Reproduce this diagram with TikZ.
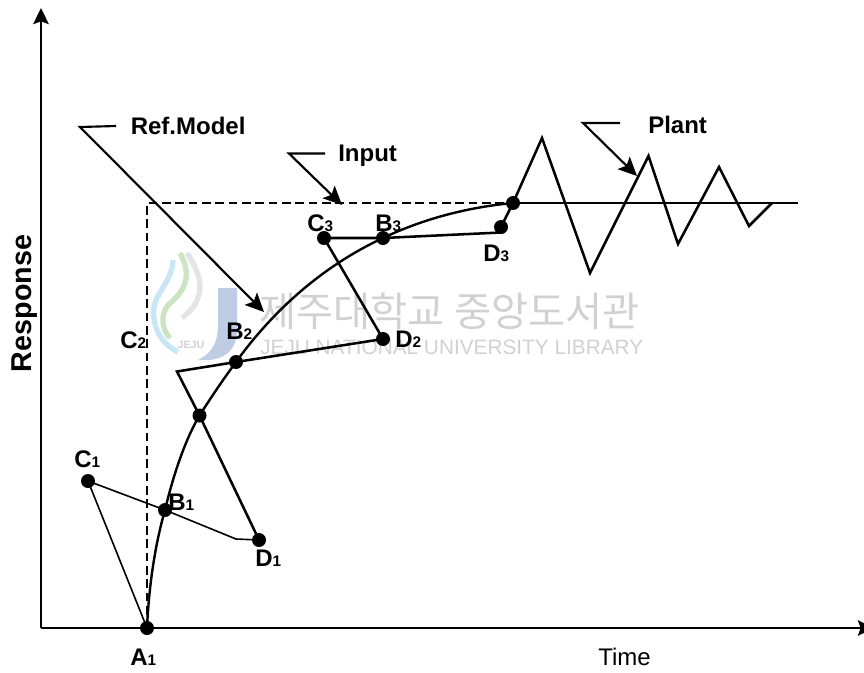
\documentclass[tikz,border=0pt]{standalone}
\usepackage{fontspec}
\setmainfont{Liberation Sans}
\newfontfamily\krfont{Noto Sans CJK KR}
\usetikzlibrary{arrows.meta}
\definecolor{wm}{gray}{0.82}
\definecolor{wmblue}{RGB}{190,205,228}
\definecolor{wmcyan}{RGB}{200,230,245}
\definecolor{wmgreen}{RGB}{205,228,195}
\definecolor{wmgray}{RGB}{225,228,232}
\tikzset{
  dot/.style={circle,fill=black,inner sep=0pt,minimum size=10.5pt},
  lab/.style={inner sep=0pt,font=\bfseries\fontsize{18}{20}\selectfont},
  axisline/.style={line width=2.1pt},
  thinline/.style={line width=1.2pt},
  midline/.style={line width=1.9pt},
  curveline/.style={line width=1.8pt},
  dashline/.style={line width=1.7pt,dash pattern=on 6.5pt off 3.5pt},
  callout/.style={line width=1.6pt,-{Stealth[length=14pt,width=13pt,inset=3pt]}},
  axisarrow/.style={axisline,-{Stealth[length=12pt,width=11.5pt,inset=2pt]}},
}
\newcommand{\sbs}[1]{{\fontsize{11.5}{12}\selectfont #1}}
\begin{document}
\begin{tikzpicture}[x=0.75pt,y=-0.75pt]
\clip (0,0) rectangle (864,672);
% watermark
\begin{scope}
\fill[wmblue] (218,288) -- (237,288) -- (237,330) .. controls (237,352) and (222,362) .. (198,360) .. controls (214,352) and (218,340) .. (218,325) -- cycle;
\draw[line width=4pt,color=wmgray] (187,253) .. controls (205,280) and (205,300) .. (182,318);
\draw[line width=4pt,color=wmcyan] (173,260) .. controls (172,285) and (150,295) .. (154,318) .. controls (156,335) and (165,345) .. (178,352);
\draw[line width=4pt,color=wmgreen] (180,253) .. controls (195,280) and (180,295) .. (168,305) .. controls (160,315) and (162,330) .. (170,338);
\node[inner sep=0pt,text=wm,font=\bfseries\fontsize{8}{8}\selectfont,align=center] (logotext) at (191,345) {JEJU};
\node[inner sep=0pt,text=wm,font=\krfont\fontsize{30.3}{31}\selectfont,anchor=west] (wmkr) at (259,311) {제주대학교 중앙도서관};
\node[inner sep=0pt,text=wm,font=\fontsize{15.6}{16}\selectfont,anchor=west] (wmen) at (260,347.5) {JEJU NATIONAL UNIVERSITY  LIBRARY};
\end{scope}
% coordinates
\coordinate (origin) at (41,628);
\coordinate (ytop) at (41,8);
\coordinate (xend) at (874,628);
\coordinate (corner) at (147,203);
\coordinate (lineend) at (798,203);
\node[dot] (A1) at (147,628) {};
\node[dot] (B1) at (165,510) {};
\node[dot] (C1) at (88,481) {};
\node[dot] (D1) at (259,540) {};
\node[dot] (M) at (199.5,415.5) {};
\node[dot] (B2) at (236,362) {};
\node[dot] (D2) at (383,339) {};
\node[dot] (C3) at (324,238) {};
\node[dot] (B3) at (383,238) {};
\node[dot] (D3) at (501,227) {};
\node[dot] (E) at (513,203) {};
\coordinate (K1) at (236,539);
\coordinate (K2) at (177,371.5);
\coordinate (K3) at (501,232.5);
\coordinate (P1) at (542,138);
\coordinate (P2) at (590,273);
\coordinate (P3) at (648.5,156);
\coordinate (P4) at (678,244);
\coordinate (P5) at (719,167);
\coordinate (P6) at (749,226);
\coordinate (P7) at (772,203);
% axes
\draw[axisarrow] (origin) -- (ytop);
\draw[axisarrow] (origin) -- (xend);
% input
\draw[dashline] (A1.center) -- (corner) -- (E.center);
\draw[axisline] (E.center) -- (lineend);
% curve
\draw[curveline] (A1.center) .. controls (149,585) and (155,545) .. (B1.center)
  .. controls (173,476) and (185,440) .. (M.center)
  .. controls (210,399) and (222,381) .. (B2.center)
  .. controls (275,308) and (325,265) .. (B3.center)
  .. controls (425,218) and (470,207) .. (E.center);
% tangents
\draw[thinline] (A1.center) -- (C1.center) -- (B1.center) -- (K1) -- (D1.center);
\draw[midline] (D1.center) -- (M.center) -- (K2) -- (B2.center) -- (D2.center) -- (C3.center);
\draw[midline] (C3.center) -- (B3.center) -- (K3) -- (D3.center) -- (E.center);
% plant
\draw[midline] (E.center) -- (P1) -- (P2) -- (P3) -- (P4) -- (P5) -- (P6) -- (P7);
% callouts
\coordinate (rm0) at (116,126); \coordinate (rm1) at (80,127); \coordinate (rm2) at (264,312);
\coordinate (in0) at (325,153.5); \coordinate (in1) at (289,153.5); \coordinate (in2) at (342,205);
\coordinate (pl0) at (620,123); \coordinate (pl1) at (583,123); \coordinate (pl2) at (637,176);
\draw[callout] (rm0) -- (rm1) -- (rm2);
\draw[callout] (in0) -- (in1) -- (in2);
\draw[callout] (pl0) -- (pl1) -- (pl2);
% labels
\node[lab,anchor=west] (tRef) at (130.5,126) {Ref.Model};
\node[lab,anchor=west] (tIn) at (338,156) {Input};
\node[lab,anchor=west] (tPl) at (648,125) {Plant};
\node[lab,anchor=base west] (tC1) at (74,467) {C\sbs{1}};
\node[lab,anchor=base west] (tB1) at (168,510) {B\sbs{1}};
\node[lab,anchor=base west] (tD1) at (255,566) {D\sbs{1}};
\node[lab,anchor=base west] (tA1) at (130,665) {A\sbs{1}};
\node[lab,anchor=base west] (tC2) at (120,348) {C\sbs{2}};
\node[lab,anchor=base west] (tB2) at (226,339) {B\sbs{2}};
\node[lab,anchor=base west] (tD2) at (395,347) {D\sbs{2}};
\node[lab,anchor=base west] (tC3) at (307,231) {C\sbs{3}};
\node[lab,anchor=base west] (tB3) at (375,231) {B\sbs{3}};
\node[lab,anchor=base west] (tD3) at (483,261) {D\sbs{3}};
\node[inner sep=0pt,font=\fontsize{18}{20}\selectfont,anchor=base west] (tTime) at (598,665) {Time};
\node[lab,font=\bfseries\fontsize{21.5}{23}\selectfont,rotate=90] (tResp) at (25,303.5) {Response};
\end{tikzpicture}
\end{document}
